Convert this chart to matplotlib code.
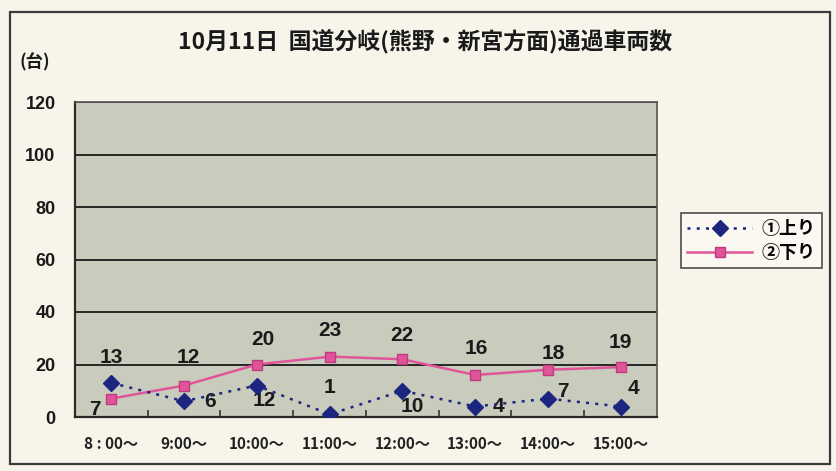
import matplotlib
matplotlib.use("Agg")
import matplotlib.pyplot as plt
from matplotlib.patches import Rectangle

plt.rcParams['font.family'] = ['Noto Sans CJK JP', 'DejaVu Sans']

# Traffic counts per hour block
time_labels = ["8 : 00～", "9:00～", "10:00～", "11:00～", "12:00～", "13:00～", "14:00～", "15:00～"]
up_counts = [13, 6, 12, 1, 10, 4, 7, 4]
down_counts = [7, 12, 20, 23, 22, 16, 18, 19]
series_names = ["①上り", "②下り"]
y_ticks = [0, 20, 40, 60, 80, 100, 120]

# label offsets (points) for each value label
up_offsets = [(0, 18), (19, 0), (5, -11), (0, 19), (7, -11), (17, 0), (11, 5), (9, 13)]
down_offsets = [(-12, -8), (3, 20), (4, 18), (0, 19), (0, 17), (1, 19), (4, 12), (0, 18)]

fig = plt.figure(figsize=(8.37, 4.71), dpi=100)
fig.patch.set_facecolor("#f7f5ea")

# outer frame of the chart
fig.patches.append(Rectangle((10 / 837, 1 - 464 / 471), 820 / 837, 452 / 471,
                             transform=fig.transFigure, fill=False,
                             edgecolor="#3a3a3a", linewidth=1.6))

ax = fig.add_axes([75 / 837, 1 - 417 / 471, 582 / 837, 315 / 471])
ax.set_facecolor("#c9cbbc")

x = list(range(len(time_labels)))
navy = "#1c2580"
pink = "#e0559a"

ax.plot(x, up_counts, linestyle=(0, (1.2, 2.5)), color=navy, linewidth=1.8,
        marker="D", markersize=8.5, markerfacecolor=navy, markeredgecolor=navy,
        label=series_names[0], zorder=4)
ax.plot(x, down_counts, linestyle="-", color=pink, linewidth=1.8,
        marker="s", markersize=6.5, markerfacecolor=pink, markeredgecolor="#c03a80",
        label=series_names[1], zorder=3)

label_font = dict(family=['Liberation Sans', 'DejaVu Sans'], fontsize=15,
                  fontweight="bold", color="#1a1a1a", ha="center", va="center")
for xi, v, off in zip(x, up_counts, up_offsets):
    ax.annotate(str(v), (xi, v), xytext=off, textcoords="offset points", **label_font)
for xi, v, off in zip(x, down_counts, down_offsets):
    ax.annotate(str(v), (xi, v), xytext=off, textcoords="offset points", **label_font)

ax.set_xlim(-0.5, len(time_labels) - 0.5)
ax.set_ylim(0, 120)
ax.set_yticks(y_ticks)
ax.set_yticklabels([str(t) for t in y_ticks], fontsize=13, fontweight="bold",
                   family=['Liberation Sans', 'DejaVu Sans'], color="#1a1a1a")
ax.yaxis.grid(True, color="#1a1a1a", linewidth=1.3)
ax.set_axisbelow(True)
ax.tick_params(axis="y", length=0, pad=14)

ax.set_xticks([i + 0.5 for i in x[:-1]])
ax.set_xticklabels([])
ax.tick_params(axis="x", direction="in", length=5, width=1.2, color="#333333")
for xi, lab in zip(x, time_labels):
    ax.text(xi, -0.06, lab, transform=ax.get_xaxis_transform(), ha="center", va="top",
            fontsize=11, fontweight="bold", color="#222222")

for side in ["left", "bottom"]:
    ax.spines[side].set_color("#2a2a2a")
    ax.spines[side].set_linewidth(1.6)
for side in ["top", "right"]:
    ax.spines[side].set_color("#555555")
    ax.spines[side].set_linewidth(1.2)

fig.text(425 / 837, 1 - 42 / 471, "10月11日  国道分岐(熊野・新宮方面)通過車両数",
         ha="center", va="center", fontsize=16.5, fontweight="bold", color="#1a1a1a")
fig.text(35 / 837, 1 - 62 / 471, "(台)", ha="center", va="center",
         fontsize=12.5, fontweight="bold", color="#1a1a1a")

leg = fig.legend(loc="upper left", bbox_to_anchor=(672 / 837, 1 - 204 / 471),
                 frameon=True, fancybox=False, fontsize=13, handlelength=3.6,
                 borderpad=0.35, labelspacing=0.25, handletextpad=0.5)
leg.get_frame().set_edgecolor("#222222")
leg.get_frame().set_linewidth(1.2)
leg.get_frame().set_facecolor("#fbfaf2")
for t in leg.get_texts():
    t.set_fontweight("bold")

fig.savefig("out.png", dpi=100, facecolor=fig.get_facecolor())
